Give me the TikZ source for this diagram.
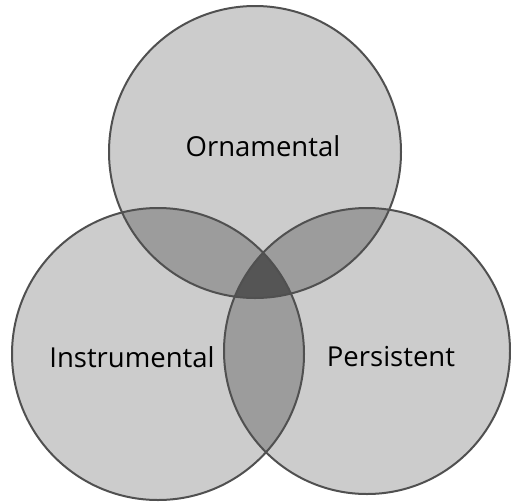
\documentclass[tikz,border=0pt]{standalone}
\usepackage{fontspec}
\setmainfont{Open Sans}
\definecolor{onefill}{HTML}{CCCCCC}
\definecolor{twofill}{HTML}{9C9C9C}
\definecolor{threefill}{HTML}{555555}
\definecolor{rim}{HTML}{505050}
\begin{document}
\begin{tikzpicture}[x=1pt,y=-1pt]
\useasboundingbox (0,0) rectangle (511,501);

\def\orncirc{(255,152) circle (146)}
\def\inscirc{(158,354) circle (146)}
\def\percirc{(367,351) circle (143)}

% Circles
\fill[onefill] \orncirc;
\fill[onefill] \inscirc;
\fill[onefill] \percirc;

% Overlaps of two
\begin{scope}
  \clip \orncirc;
  \fill[twofill] \inscirc;
  \fill[twofill] \percirc;
\end{scope}
\begin{scope}
  \clip \inscirc;
  \fill[twofill] \percirc;
\end{scope}

% Overlap of all three
\begin{scope}
  \clip \orncirc;
  \clip \inscirc;
  \fill[threefill] \percirc;
\end{scope}

% Outlines
\draw[rim, line width=2pt] \orncirc;
\draw[rim, line width=2pt] \inscirc;
\draw[rim, line width=2pt] \percirc;

\node[font=\fontsize{27.5}{33}\selectfont] (orn) at (263,146) {Ornamental};
\node[font=\fontsize{27.5}{33}\selectfont] (ins) at (132,357) {Instrumental};
\node[font=\fontsize{27.5}{33}\selectfont] (per) at (391,357) {Persistent};

\end{tikzpicture}
\end{document}
